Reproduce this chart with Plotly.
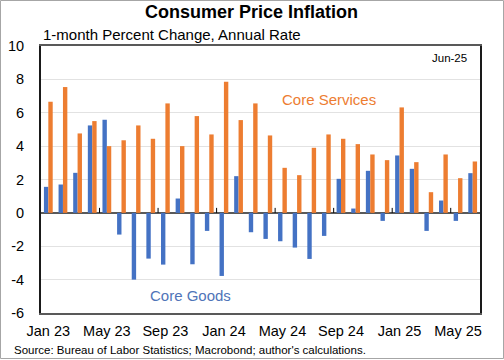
import plotly.graph_objects as go

months = ["Jan 23", "Feb 23", "Mar 23", "Apr 23", "May 23", "Jun 23", "Jul 23", "Aug 23",
          "Sep 23", "Oct 23", "Nov 23", "Dec 23", "Jan 24", "Feb 24", "Mar 24", "Apr 24",
          "May 24", "Jun 24", "Jul 24", "Aug 24", "Sep 24", "Oct 24", "Nov 24", "Dec 24",
          "Jan 25", "Feb 25", "Mar 25", "Apr 25", "May 25", "Jun 25"]

core_goods = [1.56, 1.7, 2.4, 5.24, 5.58, -1.3, -4.0, -2.74, -3.1, 0.86, -3.08, -1.08,
              -3.78, 2.2, -1.16, -1.56, -1.7, -2.08, -2.76, -1.38, 2.04, 0.26, 2.52, -0.48,
              3.44, 2.64, -1.08, 0.74, -0.48, 2.38]

core_services = [6.66, 7.54, 4.76, 5.5, 4.0, 4.35, 5.24, 4.44, 6.56, 4.0, 5.8, 4.7,
                 7.86, 5.56, 6.56, 4.64, 2.7, 2.26, 3.9, 4.7, 4.44, 4.12, 3.5, 3.16,
                 6.32, 3.04, 1.24, 3.5, 2.08, 3.08]

tick_labels = ["Jan 23", "May 23", "Sep 23", "Jan 24", "May 24", "Sep 24", "Jan 25", "May 25"]
y_ticks = [-6, -4, -2, 0, 2, 4, 6, 8, 10]
y_tick_text = ["-6", "-4", "-2", "0", "2", "4", "6", "8", "10"]

BLUE = "#4472C4"
ORANGE = "#ED7D31"
FONT = "Liberation Sans, Arial, sans-serif"

W, H = 504, 360
L, R, T, B = 41, 24, 46, 47
PW, PH = W - L - R, H - T - B


def px(x):
    return (x - L) / PW


def py(y):
    return (H - B - y) / PH


idx = list(range(len(months)))

fig = go.Figure()
fig.add_trace(go.Bar(x=idx, y=core_goods, name="Core Goods", marker_color=BLUE,
                     marker_line_width=0))
fig.add_trace(go.Bar(x=idx, y=core_services, name="Core Services", marker_color=ORANGE,
                     marker_line_width=0))

tick_pos = [months.index(t) for t in tick_labels]
boundaries = [p - 0.5 for p in tick_pos[1:]]
ymin, ymax = y_ticks[0], y_ticks[-1]

fig.update_layout(
    width=W, height=H,
    margin=dict(l=L, r=R, t=T, b=B, pad=0),
    paper_bgcolor="white", plot_bgcolor="white",
    showlegend=False,
    barmode="group", bargap=0.4, bargroupgap=0,
    font=dict(family=FONT, color="#000000"),
    xaxis=dict(
        range=[-0.5, len(months) - 0.5], automargin=False,
        tickmode="array", tickvals=tick_pos, ticktext=tick_labels,
        tickfont=dict(size=14.5, color="#000000"),
        ticks="", ticklabelstandoff=4,
        showgrid=False, zeroline=False,
        showline=True, linecolor="#595959", linewidth=2, mirror=True,
    ),
    yaxis=dict(
        range=[ymin, ymax], automargin=False, tickmode="array", tickvals=y_ticks,
        ticktext=y_tick_text,
        tickfont=dict(size=14.5, color="#000000"),
        ticks="", ticklabelstandoff=12,
        showgrid=True, gridcolor="#E2E2E2", gridwidth=1,
        zeroline=True, zerolinecolor="#595959", zerolinewidth=2,
        showline=True, linecolor="#1A1A1A", linewidth=2, mirror=True,
    ),
)

annotations = [
    dict(text="<b>Consumer Price Inflation</b>", x=px(251.5), y=py(12),
         xanchor="center", yanchor="middle", font=dict(size=18, color="#000000")),
    dict(text="1-month Percent Change, Annual Rate", x=px(41), y=py(35),
         xanchor="left", yanchor="middle", font=dict(size=15, color="#000000")),
    dict(text="Jun-25", x=px(468.5), y=py(57.5),
         xanchor="right", yanchor="middle", font=dict(size=11.5, color="#000000")),
    dict(text="Core Services", x=px(329), y=py(99),
         xanchor="center", yanchor="middle", font=dict(size=15, color=ORANGE)),
    dict(text="Core Goods", x=px(190.5), y=py(295.5),
         xanchor="center", yanchor="middle", font=dict(size=15, color="#4F74B8")),
    dict(text="Source: Bureau of Labor Statistics; Macrobond; author's calculations.",
         x=px(12), y=py(350), xanchor="left", yanchor="middle",
         font=dict(size=11.5, color="#000000")),
]
for a in annotations:
    a.update(xref="paper", yref="paper", showarrow=False)
fig.update_layout(annotations=annotations)

# small tick marks on the zero line at the 4-month boundaries
for bnd in boundaries:
    fig.add_shape(type="line", xref="x", yref="y", ysizemode="pixel", yanchor=0,
                  x0=bnd, x1=bnd, y0=0, y1=5,
                  line=dict(color="#000000", width=1), layer="above")

fig.add_shape(type="rect", xref="paper", yref="paper",
              x0=px(0.5), x1=px(503.5), y0=py(358.5), y1=py(0.5),
              line=dict(color="#A6A6A6", width=1), fillcolor="rgba(0,0,0,0)", layer="above")

fig.write_html("out.html", config={"displayModeBar": False},
               post_script="document.body.style.margin='0';document.body.style.padding='0';")
